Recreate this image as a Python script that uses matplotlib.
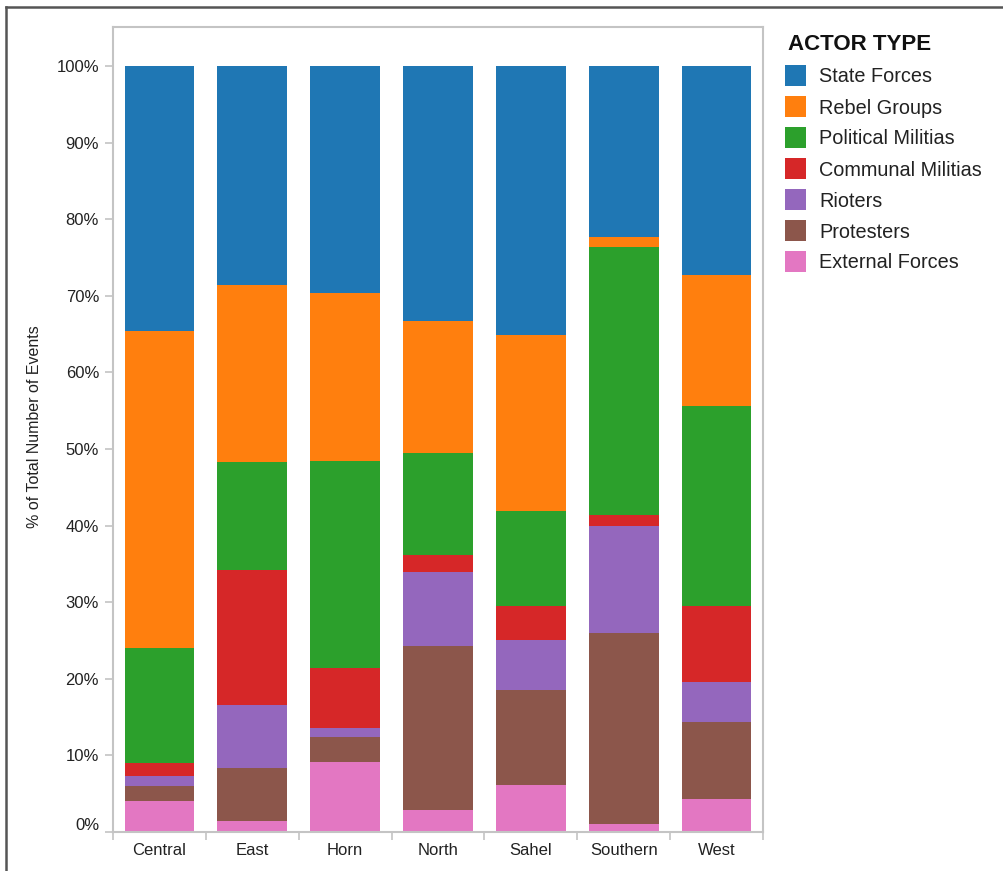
import matplotlib
matplotlib.use("Agg")
import matplotlib.pyplot as plt
from matplotlib.lines import Line2D
from matplotlib.patches import Rectangle
from matplotlib.ticker import FixedLocator, FuncFormatter
import matplotlib.transforms as mtransforms
import numpy as np

plt.rcParams['font.family'] = ['Liberation Sans', 'DejaVu Sans']

regions = ["Central", "East", "Horn", "North", "Sahel", "Southern", "West"]
actor_types = ["State Forces", "Rebel Groups", "Political Militias", "Communal Militias",
               "Rioters", "Protesters", "External Forces"]
colors = ["#1f77b4", "#ff7f0e", "#2ca02c", "#d62728", "#9467bd", "#8c564b", "#e377c2"]

# percentages per region (order: regions)
state_forces      = [34.5, 28.6, 29.6, 33.3, 35.1, 22.4, 27.2]
rebel_groups      = [41.4, 23.1, 21.9, 17.2, 23.0, 1.2, 17.2]
political_militia = [15.0, 14.1, 27.05, 13.3, 12.4, 35.1, 26.1]
communal_militia  = [1.8, 17.6, 7.87, 2.2, 4.4, 1.4, 9.9]
rioters           = [1.2, 8.3, 1.22, 9.7, 6.5, 14.0, 5.2]
protesters        = [2.0, 6.86, 3.26, 21.4, 12.5, 24.9, 10.1]
external_forces   = [4.05, 1.44, 9.1, 2.87, 6.1, 1.04, 4.27]

y_ticks = [0, 10, 20, 30, 40, 50, 60, 70, 80, 90, 100]

series = [state_forces, rebel_groups, political_militia, communal_militia,
          rioters, protesters, external_forces]

W, H = 1004, 871
fig = plt.figure(figsize=(W / 100, H / 100), dpi=100)
ax = fig.add_axes([113 / W, (H - 832) / H, 650 / W, 805 / H])

x = np.arange(len(regions))
# stack from bottom: External, Protesters, Rioters, Communal, Political, Rebel, State
bottom = np.zeros(len(regions))
for vals, col in zip(series[::-1], colors[::-1]):
    v = np.array(vals, dtype=float)
    ax.bar(x, v, width=0.75, bottom=bottom, color=col, edgecolor='none', zorder=2)
    bottom += v

ax.set_xlim(-0.5, len(regions) - 0.5)
ax.set_ylim(0, 105.1)

txtc = "#222222"
gray = "#c4c4c4"
for s in ax.spines.values():
    s.set_color(gray)
    s.set_linewidth(1.5)

ax.yaxis.set_major_locator(FixedLocator(y_ticks))
ax.yaxis.set_major_formatter(FuncFormatter(lambda v, p: f"{int(v)}%"))
ax.tick_params(axis='y', length=6, width=1.2, color=gray, labelsize=12,
               labelcolor=txtc, pad=4)

ax.set_xticks(x)
ax.set_xticklabels(regions)
ax.set_xticks(np.arange(-0.5, len(regions)), minor=True)
ax.tick_params(axis='x', which='major', length=0, labelsize=12, labelcolor=txtc, pad=8)
ax.tick_params(axis='x', which='minor', length=6, width=1.2, color=gray)

# raise the 0% label slightly, as in the reference
fig.canvas.draw()
lbl0 = ax.get_yticklabels()[0]
lbl0.set_transform(lbl0.get_transform() +
                   mtransforms.ScaledTranslation(0, 8 / 100, fig.dpi_scale_trans))

fig.text(35 / W, 1 - 427 / H, "% of Total Number of Events", rotation=90,
         ha='center', va='center', fontsize=11.5, color=txtc)

# legend drawn manually
fig.text(788 / W, 1 - 44 / H, "ACTOR TYPE", fontsize=16, fontweight='bold',
         color='#111111', ha='left', va='center')
for i, (name, col) in enumerate(zip(actor_types, colors)):
    yc = 76 + 31 * i
    fig.add_artist(Rectangle((785 / W, 1 - (yc + 10.5) / H), 21 / W, 21 / H,
                             transform=fig.transFigure, facecolor=col, edgecolor='none'))
    fig.text(819 / W, 1 - (yc + 1) / H, name, fontsize=14.3, color=txtc,
             ha='left', va='center')

# outer frame (top and left)
fig.add_artist(Line2D([6 / W, 6 / W], [0, 1 - 7 / H], transform=fig.transFigure,
                      color='#555555', linewidth=1.8))
fig.add_artist(Line2D([6 / W, 1], [1 - 7 / H, 1 - 7 / H], transform=fig.transFigure,
                      color='#555555', linewidth=1.8))

fig.savefig("out.png", dpi=100)
